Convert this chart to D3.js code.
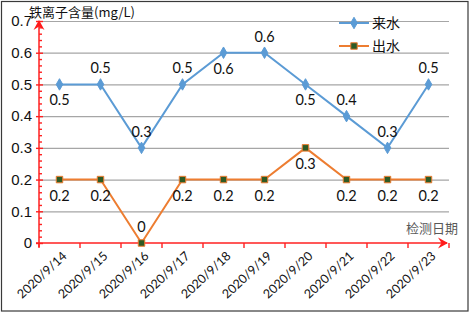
<!DOCTYPE html>
<html lang="zh">
<head>
<meta charset="UTF-8">
<title>铁离子含量</title>
<script src="https://d3js.org/d3.v7.min.js"></script>
<style>
    body { margin: 0; background: #fff; }
    svg { display: block; font-family: Lato, "Noto Sans CJK SC", sans-serif; }
    .grid line { stroke: #a6a6a6; stroke-width: 1.2; }
    .grid .domain { display: none; }
    .axis-red line, .axis-red path { stroke: #ff2020; stroke-width: 1.4; }
    .ylab text { font-size: 15px; fill: #111; }
    .xlab text { font-size: 12.5px; fill: #111; }
    .dlabel { font-size: 14.5px; fill: #111; text-anchor: middle; }
    .cn { font-family: "Noto Sans CJK SC", sans-serif; }
</style>
</head>
<body>
<script>
// données
const dates = ["2020/9/14", "2020/9/15", "2020/9/16", "2020/9/17", "2020/9/18",
               "2020/9/19", "2020/9/20", "2020/9/21", "2020/9/22", "2020/9/23"];
const inflow = [0.5, 0.5, 0.3, 0.5, 0.6, 0.6, 0.5, 0.4, 0.3, 0.5];   // 来水
const outflow = [0.2, 0.2, 0, 0.2, 0.2, 0.2, 0.3, 0.2, 0.2, 0.2];    // 出水
const inflowLabelSide = ["below", "above", "above", "above", "below", "above", "below", "above", "above", "above"];
const outflowLabelSide = ["below", "below", "above", "below", "below", "below", "below", "below", "below", "below"];
const yTicks = [0, 0.1, 0.2, 0.3, 0.4, 0.5, 0.6, 0.7];

const width = 472, height = 313;
const plot = { left: 39, right: 449, top: 21, bottom: 243 };

const svg = d3.select("body").append("svg")
    .attr("width", width).attr("height", height);

// cadre extérieur
svg.append("rect")
    .attr("x", 1.5).attr("y", 1.5)
    .attr("width", 466.5).attr("height", 309.5)
    .attr("fill", "#fff").attr("stroke", "#3a3a3a").attr("stroke-width", 1.2);

const x = d3.scaleBand().domain(dates).range([plot.left, plot.right]);
const y = d3.scaleLinear().domain([0, 0.7]).range([plot.bottom, plot.top]);

// lignes de grille
svg.append("g")
    .attr("class", "grid")
    .attr("transform", `translate(${plot.left},0)`)
    .call(d3.axisLeft(y).tickValues(yTicks.filter(d => d > 0))
        .tickSize(-(plot.right - plot.left)).tickFormat(""));

// axe Y : étiquettes + graduations majeures à gauche
svg.append("g")
    .attr("class", "axis-red ylab")
    .attr("transform", `translate(${plot.left},0)`)
    .call(d3.axisLeft(y).tickValues(yTicks).tickSize(3).tickPadding(4)
        .tickFormat(d => d === 0 ? "0" : d3.format(".1f")(d)))
    .call(g => g.select(".domain").remove());

// graduations mineures / majeures à droite
svg.append("g")
    .attr("class", "axis-red")
    .attr("transform", `translate(${plot.left},0)`)
    .call(d3.axisRight(y).tickValues(d3.range(0, 0.7001, 0.02)).tickSize(3).tickFormat(""))
    .call(g => g.select(".domain").remove())
    .call(g => g.selectAll(".tick line").filter(d => Math.abs(d * 10 - Math.round(d * 10)) < 1e-6).attr("x2", 4));

// ligne de l'axe Y
svg.append("line")
    .attr("x1", plot.left).attr("x2", plot.left)
    .attr("y1", plot.bottom + 4).attr("y2", plot.top + 2)
    .attr("stroke", "#ff2020").attr("stroke-width", 1.5);

// axe X : graduations aux limites des catégories
const bounds = dates.map(d => x(d)).concat([plot.right]);
svg.append("g").selectAll("line").data(bounds).join("line")
    .attr("x1", d => d).attr("x2", d => d)
    .attr("y1", plot.bottom).attr("y2", plot.bottom + 5)
    .attr("stroke", "#ff2020").attr("stroke-width", 1.4);

svg.append("line")
    .attr("x1", plot.left - 3).attr("x2", plot.right - 2)
    .attr("y1", plot.bottom).attr("y2", plot.bottom)
    .attr("stroke", "#ff2020").attr("stroke-width", 1.5);

// flèches
const arrow = "M0,0 L-5.5,10 L0,6.5 L5.5,10 Z";
svg.append("path").attr("d", arrow).attr("fill", "#ff1a1a")
    .attr("transform", `translate(${plot.left},${plot.top - 1})`);
svg.append("path").attr("d", arrow).attr("fill", "#ff1a1a")
    .attr("transform", `translate(${plot.right - 1},${plot.bottom}) rotate(90)`);

// étiquettes des dates
svg.append("g").attr("class", "xlab")
    .selectAll("text").data(dates).join("text")
    .attr("text-anchor", "end")
    .attr("transform", d => `translate(${x(d) + x.bandwidth() / 2 + 8},${plot.bottom + 14}) rotate(-43)`)
    .text(d => d);

// titres des axes
svg.append("text").attr("class", "cn")
    .attr("x", 29).attr("y", 17)
    .attr("font-size", 13).attr("fill", "#111")
    .text("铁离子含量(mg/L)");
svg.append("text").attr("class", "cn")
    .attr("x", 458).attr("y", 233)
    .attr("text-anchor", "end")
    .attr("font-size", 13).attr("fill", "#595959")
    .text("检测日期");

const cx = d => x(d) + x.bandwidth() / 2;
const line = d3.line().x((d, i) => cx(dates[i])).y(d => y(d));

function drawSeries(values, sides, color, symbol, fill, stroke) {
    svg.append("path").datum(values)
        .attr("d", line)
        .attr("fill", "none").attr("stroke", color).attr("stroke-width", 2);
    svg.append("g").selectAll("path").data(values).join("path")
        .attr("d", d3.symbol().type(symbol).size(symbol === d3.symbolSquare ? 42 : 38))
        .attr("transform", (d, i) => `translate(${cx(dates[i])},${y(d)})`)
        .attr("fill", fill).attr("stroke", stroke).attr("stroke-width", 1);
    svg.append("g").selectAll("text").data(values).join("text")
        .attr("class", "dlabel")
        .attr("x", (d, i) => cx(dates[i]))
        .attr("y", (d, i) => y(d) + (sides[i] === "above" ? -11 : 21))
        .text(d => d === 0 ? "0" : d3.format(".1f")(d));
}

drawSeries(inflow, inflowLabelSide, "#5b9bd5", d3.symbolDiamond, "#5b9bd5", "#5b9bd5");
drawSeries(outflow, outflowLabelSide, "#ed7d31", d3.symbolSquare, "#2e5a24", "#ed7d31");

// légende
const legend = [
    { name: "来水", color: "#5b9bd5", symbol: d3.symbolDiamond, fill: "#5b9bd5", y: 23 },
    { name: "出水", color: "#ed7d31", symbol: d3.symbolSquare, fill: "#2e5a24", y: 46 }
];
const lg = svg.append("g").selectAll("g").data(legend).join("g")
    .attr("transform", d => `translate(339,${d.y})`);
lg.append("line").attr("x1", 0).attr("x2", 30)
    .attr("stroke", d => d.color).attr("stroke-width", 2);
lg.append("path")
    .attr("d", d => d3.symbol().type(d.symbol).size(d.symbol === d3.symbolSquare ? 42 : 38)())
    .attr("transform", "translate(15,0)")
    .attr("fill", d => d.fill).attr("stroke", d => d.color);
lg.append("text").attr("class", "cn")
    .attr("x", 33).attr("y", 5)
    .attr("font-size", 14).attr("fill", "#111")
    .text(d => d.name);
</script>
</body>
</html>
